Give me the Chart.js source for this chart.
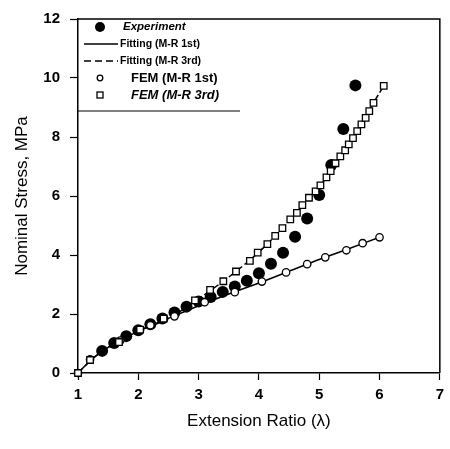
<!DOCTYPE html>
<html>
<head>
<meta charset="utf-8">
<script src="https://cdn.jsdelivr.net/npm/chart.js@4.4.1/dist/chart.umd.min.js"></script>
<style>
  html, body { margin: 0; padding: 0; background: #fff; }
  #wrap { width: 450px; height: 449px; }
</style>
</head>
<body>
<div id="wrap"><canvas id="chart"></canvas></div>
<script>
// values
const expLambda = [1.4, 1.6, 1.8, 2.0, 2.2, 2.4, 2.6, 2.8, 3.0, 3.2, 3.4, 3.6, 3.8, 4.0, 4.2, 4.4, 4.6, 4.8, 5.0, 5.2, 5.4, 5.6];
const expStress = [0.75, 1.02, 1.25, 1.45, 1.65, 1.85, 2.05, 2.25, 2.42, 2.58, 2.75, 2.93, 3.13, 3.38, 3.70, 4.08, 4.62, 5.24, 6.03, 7.05, 8.27, 9.75];

const fit1Lambda = [1.0, 1.25, 1.5, 2.0, 2.5, 3.0, 3.5, 4.0, 4.5, 5.0, 5.5, 6.0];
const fit1Stress = [0, 0.50, 0.87, 1.42, 1.85, 2.28, 2.68, 3.05, 3.45, 3.85, 4.22, 4.60];

const fit3Lambda = [1.0, 1.25, 1.5, 2.0, 2.5, 3.0, 3.5, 4.0, 4.5, 5.0, 5.5, 6.0, 6.07];
const fit3Stress = [0, 0.50, 0.87, 1.42, 1.85, 2.52, 3.25, 4.10, 5.15, 6.30, 7.80, 9.50, 9.73];

const fem1Lambda = [1.0, 1.2, 1.7, 2.2, 2.6, 3.1, 3.6, 4.05, 4.45, 4.8, 5.1, 5.45, 5.72, 6.0];
const fem1Stress = [0, 0.46, 1.10, 1.62, 1.92, 2.40, 2.74, 3.10, 3.41, 3.69, 3.92, 4.16, 4.40, 4.60];

const fem3Lambda = [1.0, 1.2, 1.68, 2.03, 2.42, 2.94, 3.19, 3.41, 3.62, 3.85, 3.98, 4.14, 4.27, 4.39, 4.52, 4.63, 4.72, 4.83, 4.94, 5.02, 5.12, 5.19, 5.27, 5.35, 5.43, 5.49, 5.56, 5.63, 5.70, 5.77, 5.83, 5.90, 6.07];
const fem3Stress = [0, 0.44, 1.05, 1.47, 1.84, 2.46, 2.82, 3.11, 3.44, 3.80, 4.08, 4.37, 4.65, 4.91, 5.21, 5.43, 5.69, 5.94, 6.16, 6.36, 6.63, 6.84, 7.11, 7.34, 7.55, 7.75, 7.96, 8.20, 8.43, 8.65, 8.88, 9.16, 9.73];

const xTicks = [1, 2, 3, 4, 5, 6, 7];
const yTicks = [0, 2, 4, 6, 8, 10, 12];

const FONT = 'Arial, "Liberation Sans", sans-serif';

function toPoints(xs, ys) {
    return xs.map((x, i) => ({ x: x, y: ys[i] }));
}

// top and right edges of the frame
const framePlugin = {
    id: 'frame',
    afterDraw(chart) {
        const { ctx, chartArea } = chart;
        ctx.save();
        ctx.strokeStyle = '#000';
        ctx.lineWidth = 1.5;
        ctx.beginPath();
        ctx.moveTo(chartArea.left, chartArea.top);
        ctx.lineTo(chartArea.right, chartArea.top);
        ctx.lineTo(chartArea.right, chartArea.bottom);
        ctx.stroke();
        ctx.restore();
    }
};

// legend drawn by hand, each entry has its own font in the original
const legendPlugin = {
    id: 'boxLegend',
    afterDraw(chart) {
        const { ctx, chartArea } = chart;
        const left = chartArea.left;
        const rows = [
            { label: 'Experiment',        mark: 'dot',    font: 'italic bold 11.5px ' + FONT, tx: 123 },
            { label: 'Fitting (M-R 1st)', mark: 'solid',  font: 'bold 10.5px ' + FONT,        tx: 120 },
            { label: 'Fitting (M-R 3rd)', mark: 'dashed', font: 'bold 10.5px ' + FONT,        tx: 120 },
            { label: 'FEM (M-R 1st)',     mark: 'circle', font: 'bold 13px ' + FONT,          tx: 131 },
            { label: 'FEM (M-R 3rd)',     mark: 'square', font: 'italic bold 13px ' + FONT,   tx: 131 }
        ];
        ctx.save();
        ctx.strokeStyle = '#000';
        ctx.fillStyle = '#000';
        ctx.lineWidth = 1.2;
        ctx.beginPath();
        ctx.moveTo(left, 111);
        ctx.lineTo(240, 111);
        ctx.stroke();

        rows.forEach((r, i) => {
            const y = 27 + i * 17;
            ctx.lineWidth = 1.3;
            ctx.setLineDash([]);
            if (r.mark === 'dot') {
                ctx.beginPath();
                ctx.arc(100, y, 5, 0, Math.PI * 2);
                ctx.fill();
            } else if (r.mark === 'solid' || r.mark === 'dashed') {
                if (r.mark === 'dashed') ctx.setLineDash([7, 4]);
                ctx.beginPath();
                ctx.moveTo(84, y);
                ctx.lineTo(118, y);
                ctx.stroke();
                ctx.setLineDash([]);
            } else if (r.mark === 'circle') {
                ctx.beginPath();
                ctx.arc(100, y, 2.8, 0, Math.PI * 2);
                ctx.stroke();
            } else {
                ctx.strokeRect(97, y - 3, 6, 6);
            }
            ctx.font = r.font;
            ctx.textBaseline = 'middle';
            ctx.textAlign = 'left';
            ctx.fillText(r.label, r.tx, y);
        });
        ctx.restore();
    }
};

new Chart(document.getElementById('chart'), {
    type: 'scatter',
    data: {
        datasets: [
            {
                label: 'FEM (M-R 3rd)',
                data: toPoints(fem3Lambda, fem3Stress),
                pointStyle: 'rect',
                pointRadius: 4.6,
                borderWidth: 1.3,
                borderColor: '#000',
                backgroundColor: '#fff',
                showLine: false,
                clip: false
            },
            {
                label: 'FEM (M-R 1st)',
                data: toPoints(fem1Lambda, fem1Stress),
                pointStyle: 'circle',
                pointRadius: 3.7,
                borderWidth: 1.3,
                borderColor: '#000',
                backgroundColor: '#fff',
                showLine: false,
                clip: false
            },
            {
                label: 'Experiment',
                data: toPoints(expLambda, expStress),
                pointStyle: 'circle',
                pointRadius: 6,
                borderWidth: 0,
                backgroundColor: '#000',
                showLine: false,
                clip: false
            },
            {
                label: 'Fitting (M-R 1st)',
                data: toPoints(fit1Lambda, fit1Stress),
                showLine: true,
                pointRadius: 0,
                borderColor: '#000',
                borderWidth: 1.5,
                tension: 0.3
            },
            {
                label: 'Fitting (M-R 3rd)',
                data: toPoints(fit3Lambda, fit3Stress),
                showLine: true,
                pointRadius: 0,
                borderColor: '#000',
                borderWidth: 1.5,
                borderDash: [7, 3],
                tension: 0.3
            }
        ]
    },
    options: {
        responsive: true,
        maintainAspectRatio: false,
        animation: false,
        layout: { padding: { top: 15, right: 6, left: 0, bottom: 0 } },
        plugins: {
            legend: { display: false },
            tooltip: { enabled: false }
        },
        scales: {
            x: {
                type: 'linear',
                min: xTicks[0],
                max: xTicks[xTicks.length - 1],
                afterBuildTicks(scale) { scale.ticks = xTicks.map(v => ({ value: v })); },
                afterFit(scale) { scale.height = 76; },
                ticks: { color: '#000', padding: 6, font: { family: FONT, size: 15, weight: 'bold' } },
                grid: { drawOnChartArea: false, drawTicks: true, tickLength: 7, color: '#000', tickWidth: 1.2 },
                border: { color: '#000', width: 1.5 },
                title: {
                    display: true,
                    text: 'Extension Ratio (λ)',
                    color: '#000',
                    font: { family: FONT, size: 17 },
                    padding: { top: 0, bottom: 17 }
                }
            },
            y: {
                type: 'linear',
                min: yTicks[0],
                max: yTicks[yTicks.length - 1],
                afterBuildTicks(scale) { scale.ticks = yTicks.map(v => ({ value: v })); },
                afterFit(scale) { scale.width = 78; },
                ticks: { color: '#000', padding: 10, font: { family: FONT, size: 15, weight: 'bold' } },
                grid: { drawOnChartArea: false, drawTicks: true, tickLength: 8, color: '#000', tickWidth: 1.2 },
                border: { color: '#000', width: 1.5 },
                title: {
                    display: true,
                    text: 'Nominal Stress, MPa',
                    color: '#000',
                    font: { family: FONT, size: 17 },
                    padding: { top: 12, bottom: 0 }
                }
            }
        }
    },
    plugins: [framePlugin, legendPlugin]
});
</script>
</body>
</html>
